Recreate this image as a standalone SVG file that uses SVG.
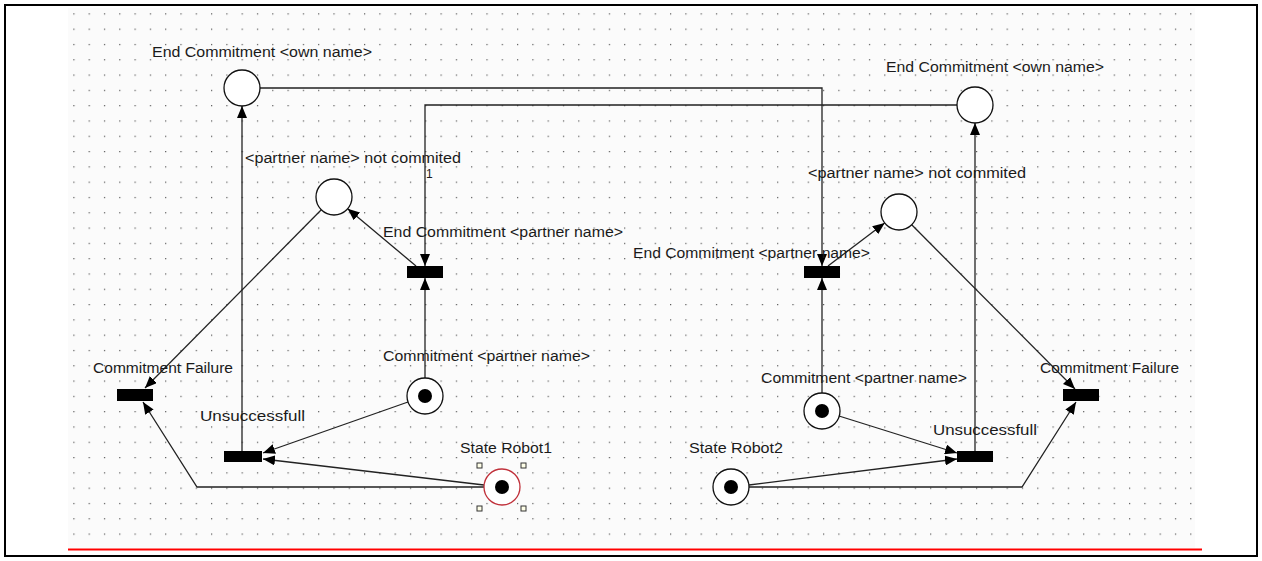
<svg xmlns="http://www.w3.org/2000/svg" width="1262" height="561" viewBox="0 0 1262 561">
<style>
.lbl{font-family:"Liberation Sans",Arial,sans-serif;font-size:14px;fill:#1a1a1a}
.pl{fill:#fff;stroke:#111;stroke-width:1.3}
.tok{fill:#000}
.tr{fill:#000}
.arc{fill:none;stroke:#222;stroke-width:1.3}
.hd{fill:#ffffe8;stroke:#333;stroke-width:1}
</style>
<defs>
<pattern id="grid" x="73.3" y="13.3" width="15.3" height="15.3" patternUnits="userSpaceOnUse">
<rect x="0" y="0" width="1.2" height="1.2" fill="#555"/>
</pattern>
<marker id="ah" markerUnits="userSpaceOnUse" markerWidth="12" markerHeight="10" refX="12" refY="5" orient="auto">
<path d="M0,0 L12,5 L0,10 z" fill="#000"/>
</marker>
</defs>
<rect x="0" y="0" width="1262" height="561" fill="#fff"/>
<rect x="68" y="8" width="1127" height="540" fill="#fbfbfb"/>
<rect x="72" y="12" width="1120" height="528" fill="url(#grid)"/>
<line x1="68" y1="549.5" x2="1202" y2="549.5" stroke="#f00" stroke-width="2"/>
<rect x="5" y="5" width="1252" height="551" fill="none" stroke="#000" stroke-width="2"/>

<g id="connectors">
<path class="arc" d="M242,451 L242,106" marker-end="url(#ah)"/>
<path class="arc" d="M260,88 L822,88 L822,266" marker-end="url(#ah)"/>
<path class="arc" d="M957,105 L425,105 L425,266" marker-end="url(#ah)"/>
<path class="arc" d="M416,266 L347.7,208.7" marker-end="url(#ah)"/>
<path class="arc" d="M425,378 L425,278" marker-end="url(#ah)"/>
<path class="arc" d="M321.3,209.8 L145,388" marker-end="url(#ah)"/>
<path class="arc" d="M408,402 L263,453" marker-end="url(#ah)"/>
<path class="arc" d="M484,485 L263,459" marker-end="url(#ah)"/>
<path class="arc" d="M484,487 L197,487 L143,402" marker-end="url(#ah)"/>
<path class="arc" d="M975,451 L975,123" marker-end="url(#ah)"/>
<path class="arc" d="M828,266 L884.7,222.9" marker-end="url(#ah)"/>
<path class="arc" d="M822,393 L822,278" marker-end="url(#ah)"/>
<path class="arc" d="M911.7,224.8 L1075,389" marker-end="url(#ah)"/>
<path class="arc" d="M839,416 L957,453" marker-end="url(#ah)"/>
<path class="arc" d="M749,485 L957,459" marker-end="url(#ah)"/>
<path class="arc" d="M749,487 L1022,487 L1076,402" marker-end="url(#ah)"/>
</g>

<g id="p-end-own-1">
<circle class="pl" cx="242" cy="88" r="18"/>
<text class="lbl" x="152" y="57" textLength="220" lengthAdjust="spacingAndGlyphs">End Commitment &lt;own name&gt;</text>
</g>
<g id="p-notcom-1">
<circle class="pl" cx="334" cy="197" r="18"/>
<text class="lbl" x="245" y="163" textLength="216" lengthAdjust="spacingAndGlyphs">&lt;partner name&gt; not commited</text>
<text class="lbl" x="426" y="178" style="font-size:12px">1</text>
</g>
<g id="t-end-partner-1">
<rect class="tr" x="407" y="266" width="36" height="12"/>
<text class="lbl" x="383" y="237" textLength="240" lengthAdjust="spacingAndGlyphs">End Commitment &lt;partner name&gt;</text>
</g>
<g id="p-commit-partner-1">
<circle class="pl" cx="425" cy="396" r="18"/>
<circle class="tok" cx="425" cy="396" r="7"/>
<text class="lbl" x="383" y="361" textLength="207" lengthAdjust="spacingAndGlyphs">Commitment &lt;partner name&gt;</text>
</g>
<g id="t-failure-1">
<rect class="tr" x="117" y="389" width="36" height="12"/>
<text class="lbl" x="93" y="373" textLength="140" lengthAdjust="spacingAndGlyphs">Commitment Failure</text>
</g>
<g id="t-unsuccess-1">
<rect class="tr" x="224" y="451" width="38" height="11"/>
<text class="lbl" x="200" y="421" textLength="105" lengthAdjust="spacingAndGlyphs">Unsuccessfull</text>
</g>
<g id="p-state-robot1">
<circle class="pl" cx="502" cy="487" r="18" style="stroke:#c0303a"/>
<circle class="tok" cx="502" cy="487" r="7"/>
<rect class="hd" x="477" y="463" width="5" height="5"/>
<rect class="hd" x="521" y="463" width="5" height="5"/>
<rect class="hd" x="477" y="506" width="5" height="5"/>
<rect class="hd" x="521" y="506" width="5" height="5"/>
<text class="lbl" x="460" y="453" textLength="92" lengthAdjust="spacingAndGlyphs">State Robot1</text>
</g>

<g id="p-end-own-2">
<circle class="pl" cx="975" cy="105" r="18"/>
<text class="lbl" x="886" y="72" textLength="218" lengthAdjust="spacingAndGlyphs">End Commitment &lt;own name&gt;</text>
</g>
<g id="p-notcom-2">
<circle class="pl" cx="899" cy="212" r="18"/>
<text class="lbl" x="808" y="178" textLength="218" lengthAdjust="spacingAndGlyphs">&lt;partner name&gt; not commited</text>
</g>
<g id="t-end-partner-2">
<rect class="tr" x="804" y="266" width="36" height="12"/>
<text class="lbl" x="633" y="258" textLength="237" lengthAdjust="spacingAndGlyphs">End Commitment &lt;partner name&gt;</text>
</g>
<g id="p-commit-partner-2">
<circle class="pl" cx="822" cy="411" r="18"/>
<circle class="tok" cx="822" cy="411" r="7"/>
<text class="lbl" x="761" y="383" textLength="206" lengthAdjust="spacingAndGlyphs">Commitment &lt;partner name&gt;</text>
</g>
<g id="t-failure-2">
<rect class="tr" x="1063" y="389" width="36" height="12"/>
<text class="lbl" x="1040" y="373" textLength="139" lengthAdjust="spacingAndGlyphs">Commitment Failure</text>
</g>
<g id="t-unsuccess-2">
<rect class="tr" x="957" y="451" width="36" height="11"/>
<text class="lbl" x="933" y="435" textLength="104" lengthAdjust="spacingAndGlyphs">Unsuccessfull</text>
</g>
<g id="p-state-robot2">
<circle class="pl" cx="731" cy="487" r="18"/>
<circle class="tok" cx="731" cy="487" r="7"/>
<text class="lbl" x="689" y="453" textLength="94" lengthAdjust="spacingAndGlyphs">State Robot2</text>
</g>
</svg>
